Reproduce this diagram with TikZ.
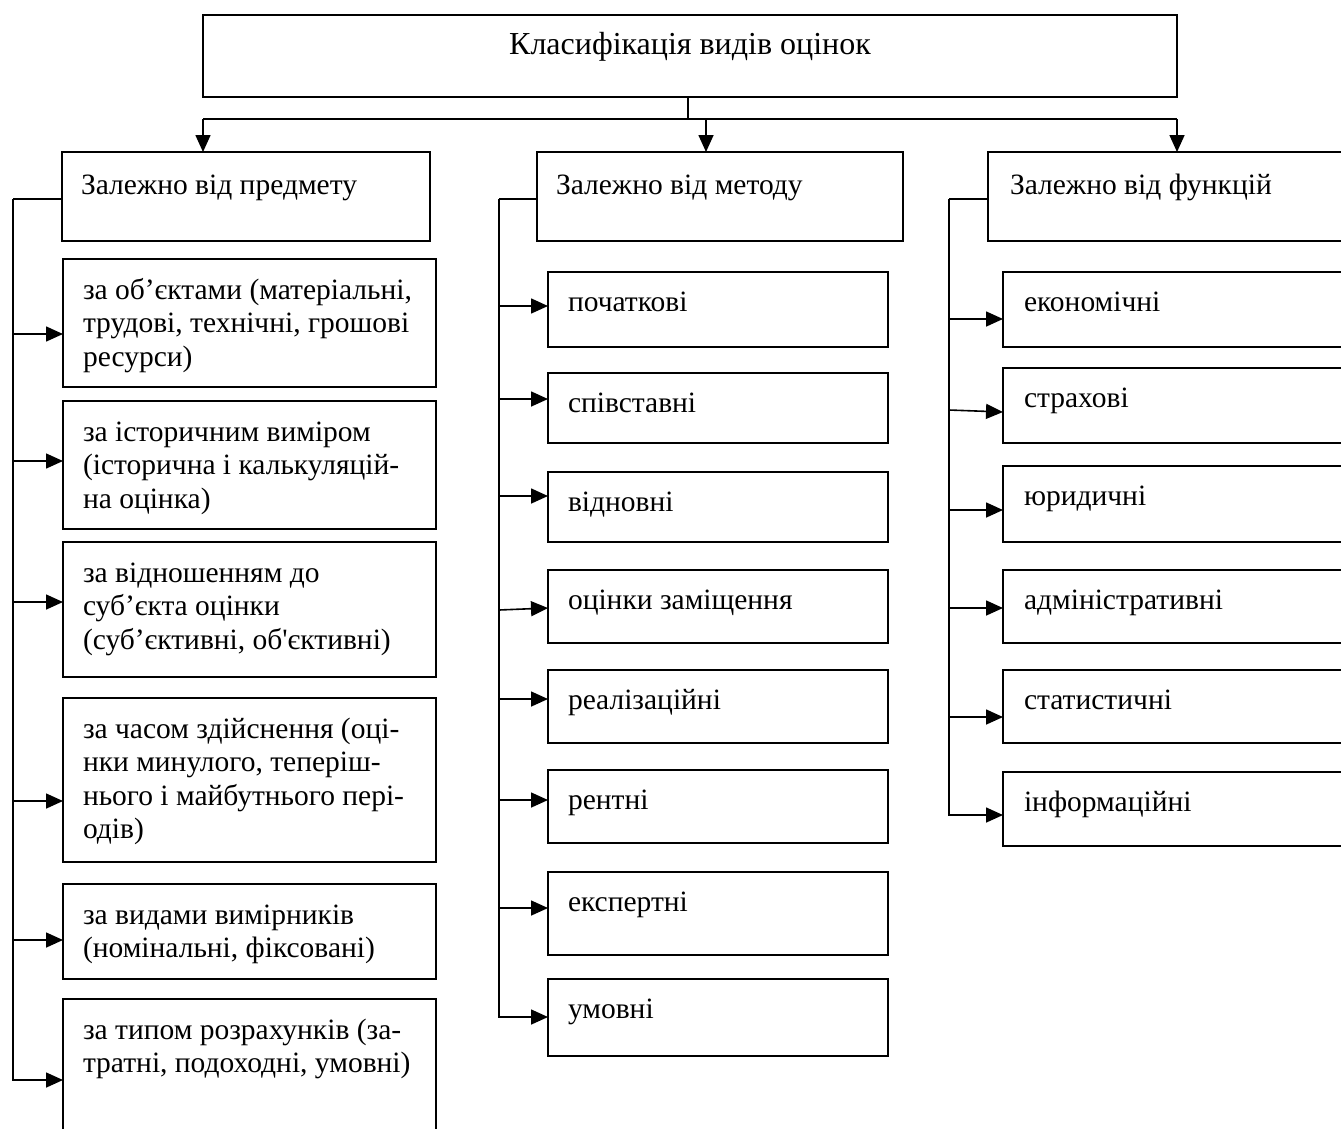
\documentclass[tikz,border=0pt]{standalone}
\usepackage{fontspec}
\setmainfont{Liberation Serif}[Ligatures=TeXOff]
\usetikzlibrary{arrows.meta}
\tikzset{
  boxst/.style={draw, line width=1.6bp, inner sep=0pt, outer sep=0pt, anchor=north west,
    font=\fontsize{29.5bp}{33.5bp}\selectfont},
  ln/.style={line width=1.6bp},
  arr/.style={line width=1.6bp, -{Triangle[length=17bp,width=15bp]}}
}
% name, x, y, w, h, top offset, left pad, lines
\newcommand{\tbox}[8]{%
  \node[boxst] (#1) at (#2,#3) {\begin{minipage}[t][#5bp][t]{#4bp}\vspace*{#6bp}\hspace*{#7bp}\begin{tabular}[t]{@{}l@{}}#8\end{tabular}\end{minipage}};}
\newcommand{\arrto}[4]{\draw[arr] (#1 |- 0,#3) -- (#2.west |- 0,#4);}
\begin{document}
\begin{tikzpicture}[x=1bp, y=-1bp]
\path[use as bounding box, fill=white] (0,0) rectangle (1341,1128);
\clip (0,0) rectangle (1341,1128);
% title
\node[boxst] (top) at (203,15) {\begin{minipage}[t][82bp][t]{974bp}\centering\fontsize{32bp}{36bp}\selectfont\vspace*{14bp}\strut Класифікація видів оцінок\end{minipage}};
% headers
\tbox{hA}{62}{152}{368}{89}{19}{19}{Залежно від предмету}
\tbox{hB}{537}{152}{366}{89}{19}{19}{Залежно від методу}
\tbox{hC}{988}{152}{420}{89}{19}{22}{Залежно від функцій}
% top connectors
\coordinate (j) at (688,119);
\coordinate (tA) at (203,119);
\coordinate (tB) at (706,119);
\coordinate (tC) at (1177,119);
\draw[ln] (j |- top.south) -- (j);
\draw[ln] (tA) -- (tC);
\draw[arr] (tA) -- (tA |- hA.north);
\draw[arr] (tB) -- (tB |- hB.north);
\draw[arr] (tC) -- (tC |- hC.north);
% column A
\tbox{cA1}{63}{259}{373}{128}{17}{20}{за об’єктами (матеріальні,\\трудові, технічні, грошові\\ресурси)}
\tbox{cA2}{63}{401}{373}{128}{17}{20}{за історичним виміром\\(історична і калькуляцій-\\на оцінка)}
\tbox{cA3}{63}{542}{373}{135}{17}{20}{за відношенням до\\суб’єкта оцінки\\(суб’єктивні, об'єктивні)}
\tbox{cA4}{63}{698}{373}{164}{17}{20}{за часом здійснення (оці-\\нки минулого, теперіш-\\нього і майбутнього пері-\\одів)}
\tbox{cA5}{63}{884}{373}{95}{17}{20}{за видами вимірників\\(номінальні, фіксовані)}
\tbox{cA6}{63}{999}{373}{160}{17}{20}{за типом розрахунків (за-\\тратні, подоходні, умовні)}
\coordinate (bA) at (13,199);
\draw[ln] (hA.west |- bA) -- (bA);
\draw[arr] (bA) |- (cA6.west |- 0,1080);
\arrto{bA}{cA1}{334}{334}
\arrto{bA}{cA2}{461}{461}
\arrto{bA}{cA3}{602}{602}
\arrto{bA}{cA4}{801}{801}
\arrto{bA}{cA5}{940}{940}
% column B
\tbox{cB1}{548}{272}{340}{75}{16}{20}{початкові}
\tbox{cB2}{548}{373}{340}{70}{16}{20}{співставні}
\tbox{cB3}{548}{472}{340}{70}{16}{20}{відновні}
\tbox{cB4}{548}{570}{340}{73}{16}{20}{оцінки заміщення}
\tbox{cB5}{548}{670}{340}{73}{16}{20}{реалізаційні}
\tbox{cB6}{548}{770}{340}{73}{16}{20}{рентні}
\tbox{cB7}{548}{872}{340}{83}{16}{20}{експертні}
\tbox{cB8}{548}{979}{340}{77}{16}{20}{умовні}
\coordinate (bB) at (499,199);
\draw[ln] (hB.west |- bB) -- (bB);
\draw[arr] (bB) |- (cB8.west |- 0,1017);
\arrto{bB}{cB1}{306}{306}
\arrto{bB}{cB2}{399}{399}
\arrto{bB}{cB3}{496}{496}
\arrto{bB}{cB4}{610}{608}
\arrto{bB}{cB5}{699}{699}
\arrto{bB}{cB6}{800}{800}
\arrto{bB}{cB7}{908}{908}
% column C
\tbox{cC1}{1003}{272}{400}{75}{16}{21}{економічні}
\tbox{cC2}{1003}{368}{400}{75}{16}{21}{страхові}
\tbox{cC3}{1003}{466}{400}{76}{16}{21}{юридичні}
\tbox{cC4}{1003}{570}{400}{73}{16}{21}{адміністративні}
\tbox{cC5}{1003}{670}{400}{73}{16}{21}{статистичні}
\tbox{cC6}{1003}{772}{400}{74}{16}{21}{інформаційні}
\coordinate (bC) at (949,199);
\draw[ln] (hC.west |- bC) -- (bC);
\draw[arr] (bC) |- (cC6.west |- 0,815);
\arrto{bC}{cC1}{319}{319}
\arrto{bC}{cC2}{410}{412}
\arrto{bC}{cC3}{510}{510}
\arrto{bC}{cC4}{608}{608}
\arrto{bC}{cC5}{717}{717}
\end{tikzpicture}
\end{document}
